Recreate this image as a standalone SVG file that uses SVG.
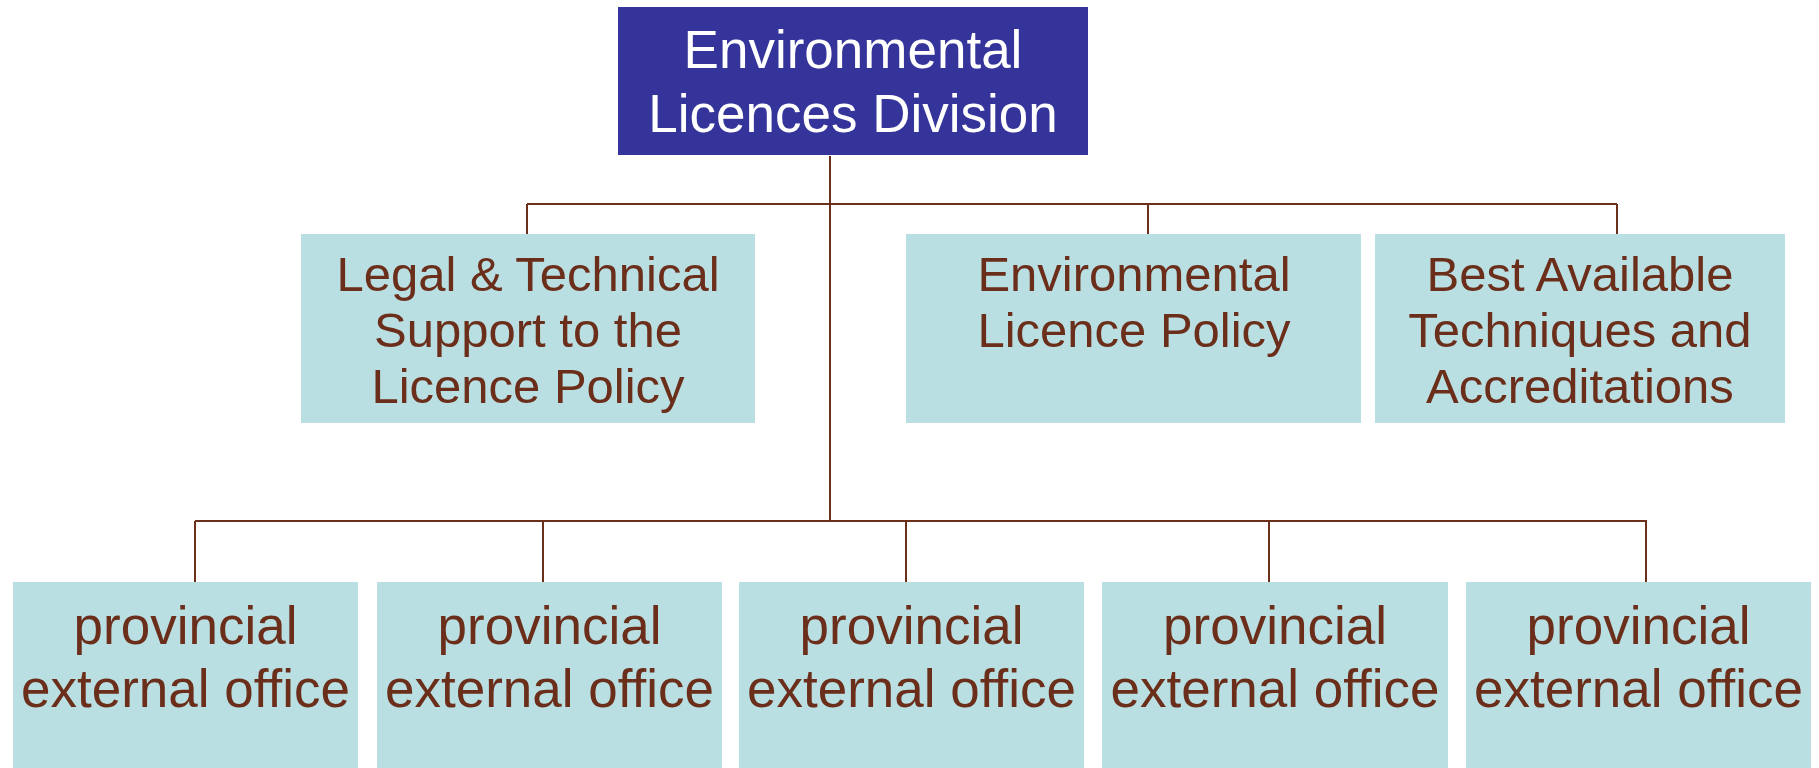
<svg xmlns="http://www.w3.org/2000/svg" width="1819" height="768" viewBox="0 0 1819 768">
  <style>
    .box { fill: #badfe2; }
    .head { fill: #35349a; }
    .lbl { font-family: "Liberation Sans", Arial, sans-serif; fill: #6b2e1a; text-anchor: middle; }
    .mid { font-size: 49px; }
    .low { font-size: 53px; }
    .top { font-family: "Liberation Sans", Arial, sans-serif; fill: #ffffff; text-anchor: middle; font-size: 53px; }
    .wire { stroke: #6b3019; stroke-width: 2; fill: none; }
  </style>
  <rect width="1819" height="768" fill="#ffffff"/>

  <!-- connectors -->
  <g id="connectors" class="wire">
    <line x1="830" y1="156" x2="830" y2="522"/>
    <line x1="527" y1="204" x2="1617" y2="204"/>
    <line x1="527" y1="204" x2="527" y2="234"/>
    <line x1="1148" y1="204" x2="1148" y2="234"/>
    <line x1="1617" y1="204" x2="1617" y2="234"/>
    <line x1="195" y1="521" x2="1647" y2="521"/>
    <line x1="195" y1="521" x2="195" y2="582"/>
    <line x1="543" y1="521" x2="543" y2="582"/>
    <line x1="906" y1="521" x2="906" y2="582"/>
    <line x1="1269" y1="521" x2="1269" y2="582"/>
    <line x1="1646" y1="521" x2="1646" y2="582"/>
  </g>

  <!-- head of division -->
  <g id="division">
    <rect class="head" x="618" y="7" width="470" height="148"/>
    <text class="top" x="853" y="68">Environmental</text>
    <text class="top" x="853" y="132">Licences Division</text>
  </g>

  <!-- staff units -->
  <g id="legal-support">
    <rect class="box" x="301" y="234" width="454" height="189"/>
    <text class="lbl mid" x="528" y="291">Legal &amp; Technical</text>
    <text class="lbl mid" x="528" y="347">Support to the</text>
    <text class="lbl mid" x="528" y="403">Licence Policy</text>
  </g>
  <g id="licence-policy">
    <rect class="box" x="906" y="234" width="455" height="189"/>
    <text class="lbl mid" x="1134" y="291">Environmental</text>
    <text class="lbl mid" x="1134" y="347">Licence Policy</text>
  </g>
  <g id="bat-accreditations">
    <rect class="box" x="1375" y="234" width="410" height="189"/>
    <text class="lbl mid" x="1580" y="291">Best Available</text>
    <text class="lbl mid" x="1580" y="347">Techniques and</text>
    <text class="lbl mid" x="1580" y="403">Accreditations</text>
  </g>

  <!-- provincial offices -->
  <g id="office-1">
    <rect class="box" x="13" y="582" width="345" height="186"/>
    <text class="lbl low" x="185.5" y="644">provincial</text>
    <text class="lbl low" x="185.5" y="707">external office</text>
  </g>
  <g id="office-2">
    <rect class="box" x="377" y="582" width="345" height="186"/>
    <text class="lbl low" x="549.5" y="644">provincial</text>
    <text class="lbl low" x="549.5" y="707">external office</text>
  </g>
  <g id="office-3">
    <rect class="box" x="739" y="582" width="345" height="186"/>
    <text class="lbl low" x="911.5" y="644">provincial</text>
    <text class="lbl low" x="911.5" y="707">external office</text>
  </g>
  <g id="office-4">
    <rect class="box" x="1102" y="582" width="346" height="186"/>
    <text class="lbl low" x="1275" y="644">provincial</text>
    <text class="lbl low" x="1275" y="707">external office</text>
  </g>
  <g id="office-5">
    <rect class="box" x="1466" y="582" width="345" height="186"/>
    <text class="lbl low" x="1638.5" y="644">provincial</text>
    <text class="lbl low" x="1638.5" y="707">external office</text>
  </g>
</svg>
